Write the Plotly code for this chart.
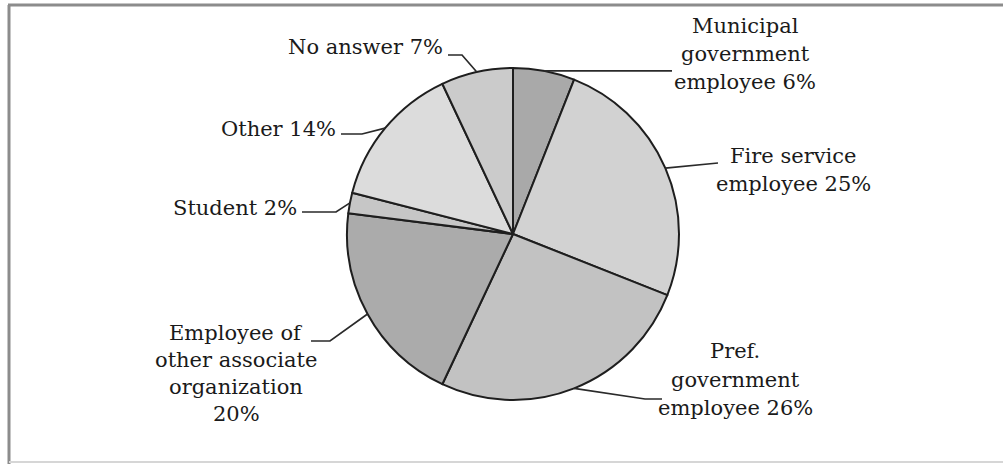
import math
import plotly.graph_objects as go

# Survey respondents by affiliation (percent), clockwise from 12 o'clock
label_lines = [
    ["Municipal", "government", "employee"],
    ["Fire service", "employee"],
    ["Pref.", "government", "employee"],
    ["Employee of", "other associate", "organization", ""],
    ["Student"],
    ["Other"],
    ["No answer"],
]
values = [6, 25, 26, 20, 2, 14, 7]
colors = ["#a9a9a9", "#d2d2d2", "#c2c2c2", "#ababab", "#c6c6c6", "#dcdcdc", "#cbcbcb"]

W, H = 1003, 464
CX, CY, R = 513, 234, 166  # pie centre and radius in pixels


def px(x):
    return x / W


def py(y):
    return 1 - y / H


def full_label(lines, v):
    last = lines[-1]
    return lines[:-1] + [(last + " " if last else "") + f"{v}%"]


labels = [" ".join(l for l in full_label(ls, v) if l) for ls, v in zip(label_lines, values)]

fig = go.Figure(
    go.Pie(
        labels=labels,
        values=values,
        sort=False,
        direction="clockwise",
        rotation=0,
        textinfo="none",
        hoverinfo="label",
        marker=dict(colors=colors, line=dict(color="#1e1e1e", width=2)),
        domain=dict(x=[px(CX - R), px(CX + R)], y=[py(CY + R), py(CY - R)]),
        showlegend=False,
    )
)

# label block placement: (anchor x, first line centre y, line spacing, xanchor)
label_place = [
    (745, 26, 28, "center"),
    (793, 156, 28, "center"),
    (735, 351, 28.5, "center"),
    (236, 333, 27, "center"),
    (299, 208, 27, "right"),
    (338, 129, 27, "right"),
    (445, 47, 27, "right"),
]

# leader line bends/ends after leaving the slice edge
leader_tail = [
    [(672, None)],
    [(718, 163)],
    [(645, 399), (662, 399)],
    [(330, 341), (311, 341)],
    [(336, 212), (302, 212)],
    [(362, 134), (341, 134)],
    [(462, 55), (448, 55)],
]

font = dict(family="DejaVu Serif", size=21, color="#1a1a1a")
annotations = []
shapes = []
total = sum(values)
cum = 0
for lines, v, (ax, ay, dy, xa), tail in zip(label_lines, values, label_place, leader_tail):
    mid = (cum + v / 2) / total * 2 * math.pi
    cum += v
    sx = CX + R * math.sin(mid)
    sy = CY - R * math.cos(mid)
    pts = [(sx, sy)] + [(x, sy if y is None else y) for x, y in tail]
    path = "M " + " L ".join(f"{px(x):.5f},{py(y):.5f}" for x, y in pts)
    shapes.append(dict(type="path", xref="paper", yref="paper", path=path,
                       line=dict(color="#2a2a2a", width=1.7)))
    for i, text in enumerate(full_label(lines, v)):
        annotations.append(dict(
            text=text, x=px(ax), y=py(ay + i * dy), xref="paper", yref="paper",
            xanchor=xa, yanchor="middle", showarrow=False, font=font,
        ))

# frame around the chart
shapes += [
    dict(type="line", xref="paper", yref="paper", x0=px(8), x1=1, y0=py(5), y1=py(5),
         line=dict(color="#8c8c8c", width=3)),
    dict(type="line", xref="paper", yref="paper", x0=px(9), x1=px(9), y0=py(5), y1=0,
         line=dict(color="#8c8c8c", width=3)),
    dict(type="line", xref="paper", yref="paper", x0=px(9), x1=1, y0=py(462), y1=py(462),
         line=dict(color="#d6d6d6", width=2)),
]

fig.update_layout(
    width=W, height=H,
    margin=dict(l=0, r=0, t=0, b=0),
    paper_bgcolor="white",
    plot_bgcolor="white",
    annotations=annotations,
    shapes=shapes,
)

fig.write_html("out.html")
